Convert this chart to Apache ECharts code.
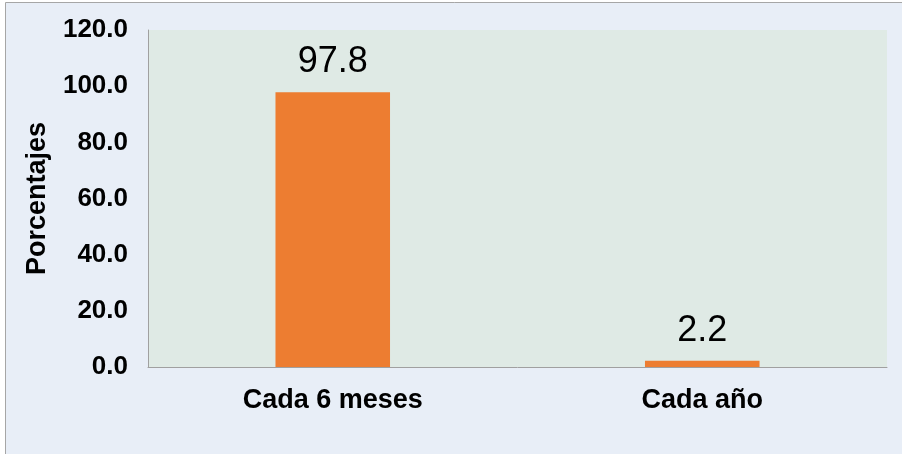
<!DOCTYPE html>
<html><head><meta charset="utf-8">
<script src="https://cdn.jsdelivr.net/npm/echarts@6/dist/echarts.min.js"></script>
<style>html,body{margin:0;padding:0;background:#fff;}#c{width:902px;height:454px;}</style>
</head><body><div id="c"></div>
<script>
const categories = ['Cada 6 meses', 'Cada año'];
const values = [97.8, 2.2];
const yAxisName = 'Porcentajes';

const chart = echarts.init(document.getElementById('c'), null, {renderer: 'canvas'});
const FONT = '"Liberation Sans", Arial, sans-serif';
chart.setOption({
  animation: false,
  backgroundColor: '#ffffff',
  graphic: [{
    type: 'rect', z: -10, silent: true,
    shape: {x: 5.5, y: 2.5, width: 920, height: 480},
    style: {fill: '#E8EEF7', stroke: '#A6A6A6', lineWidth: 1}
  }],
  grid: {left: 148, top: 30, right: 15, bottom: 87, show: true, backgroundColor: '#DFEAE5', borderWidth: 0},
  xAxis: {
    type: 'category', data: categories,
    axisLine: {lineStyle: {color: '#A0A0A0', width: 1}},
    axisTick: {show: false},
    axisLabel: {margin: 20, fontFamily: FONT, fontWeight: 'bold', fontSize: 27, color: '#000'}
  },
  yAxis: {
    type: 'value', min: 0, max: 120, interval: 20,
    name: yAxisName, nameLocation: 'middle', nameGap: 97, nameRotate: 90,
    nameTextStyle: {fontFamily: FONT, fontWeight: 'bold', fontSize: 27, color: '#000'},
    axisLine: {show: true, lineStyle: {color: '#A0A0A0', width: 1}},
    axisTick: {show: false},
    splitLine: {show: false},
    axisLabel: {margin: 20, fontFamily: FONT, fontWeight: 'bold', fontSize: 26, color: '#000',
      formatter: v => v.toFixed(1)}
  },
  series: [{
    type: 'bar', data: values, barWidth: '31%',
    itemStyle: {color: '#ED7D31'},
    label: {show: true, position: 'top', distance: 12, fontFamily: FONT, fontSize: 36, color: '#000',
      formatter: p => p.value.toFixed(1)}
  }]
});
</script></body></html>
